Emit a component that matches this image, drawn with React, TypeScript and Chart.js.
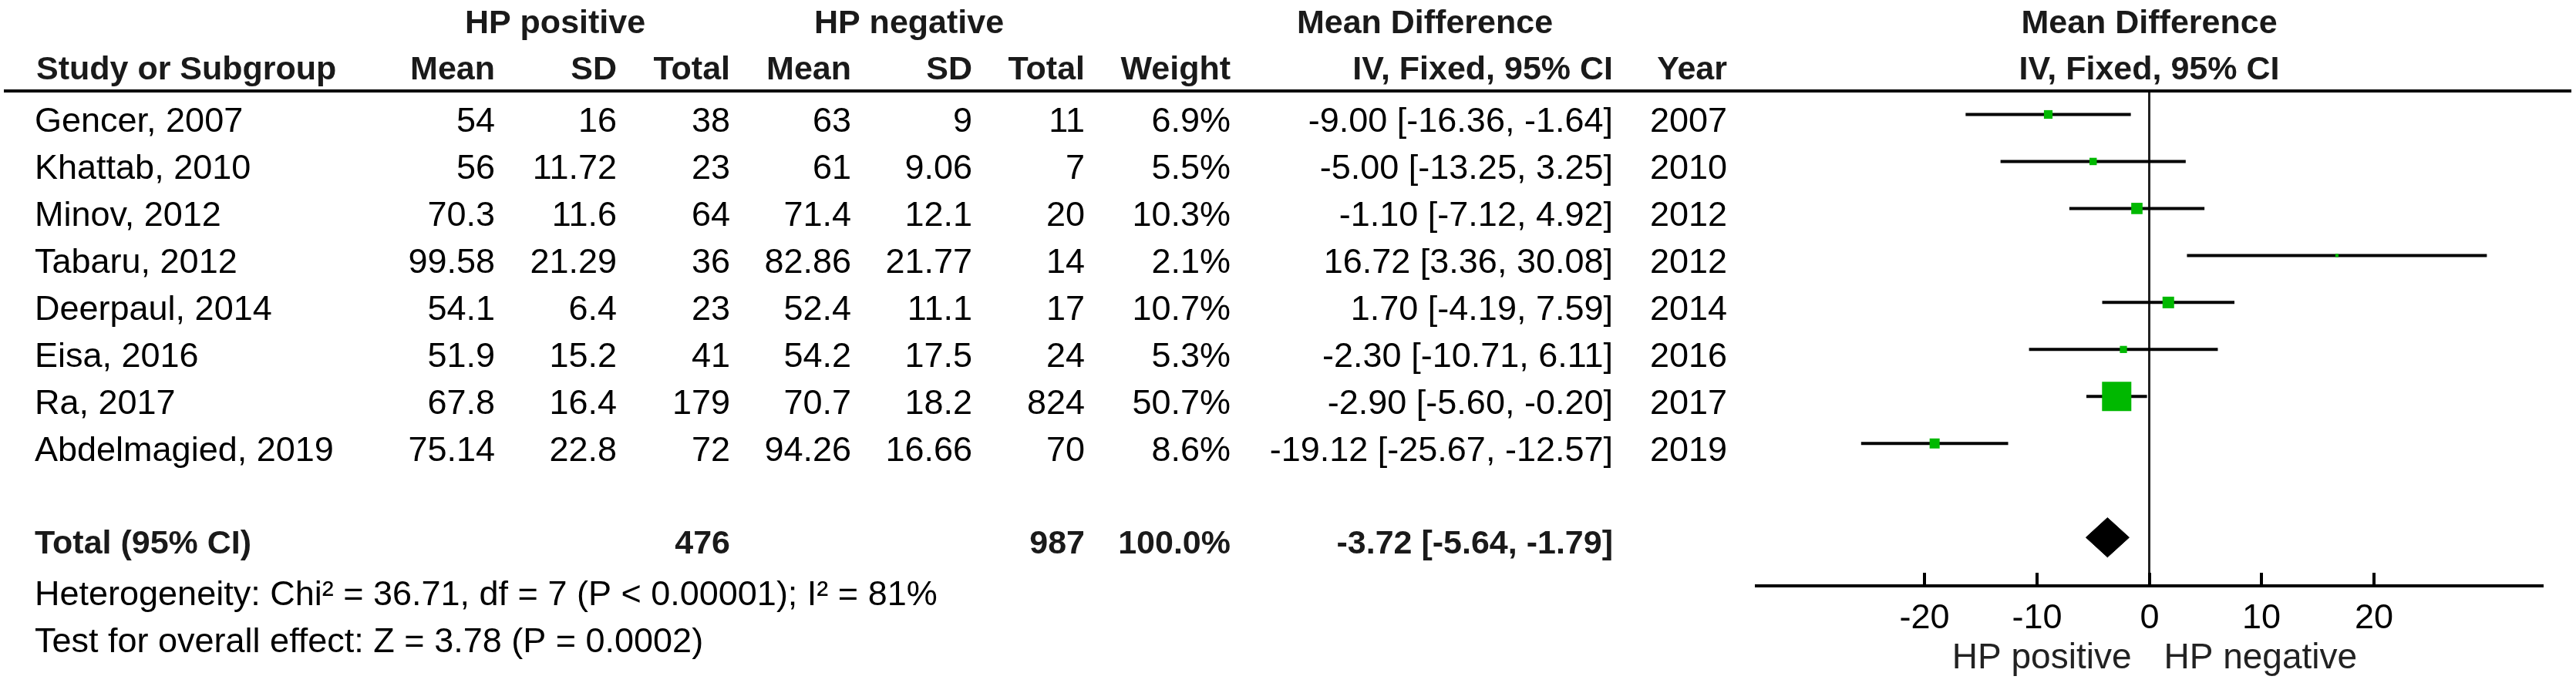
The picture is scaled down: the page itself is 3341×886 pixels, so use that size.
import React, { useEffect, useRef } from 'react';
import { Chart, registerables } from 'chart.js';

Chart.register(...registerables);

// ---------- data ----------
const STUDIES = ['Gencer, 2007', 'Khattab, 2010', 'Minov, 2012', 'Tabaru, 2012', 'Deerpaul, 2014', 'Eisa, 2016', 'Ra, 2017', 'Abdelmagied, 2019'];
const POS_MEAN = [54, 56, 70.3, 99.58, 54.1, 51.9, 67.8, 75.14];
const POS_SD = [16, 11.72, 11.6, 21.29, 6.4, 15.2, 16.4, 22.8];
const POS_N = [38, 23, 64, 36, 23, 41, 179, 72];
const NEG_MEAN = [63, 61, 71.4, 82.86, 52.4, 54.2, 70.7, 94.26];
const NEG_SD = [9, 9.06, 12.1, 21.77, 11.1, 17.5, 18.2, 16.66];
const NEG_N = [11, 7, 20, 14, 17, 24, 824, 70];
const WEIGHT = [6.9, 5.5, 10.3, 2.1, 10.7, 5.3, 50.7, 8.6];
const MD = [-9.0, -5.0, -1.1, 16.72, 1.7, -2.3, -2.9, -19.12];
const CI_LO = [-16.36, -13.25, -7.12, 3.36, -4.19, -10.71, -5.6, -25.67];
const CI_HI = [-1.64, 3.25, 4.92, 30.08, 7.59, 6.11, -0.2, -12.57];
const YEARS = [2007, 2010, 2012, 2012, 2014, 2016, 2017, 2019];

const TOTAL_POS_N = 476;
const TOTAL_NEG_N = 987;
const TOTAL_WEIGHT = 100.0;
const TOTAL_MD = -3.72;
const TOTAL_LO = -5.64;
const TOTAL_HI = -1.79;
const HETEROGENEITY = 'Heterogeneity: Chi\u00B2 = 36.71, df = 7 (P < 0.00001); I\u00B2 = 81%';
const OVERALL = 'Test for overall effect: Z = 3.78 (P = 0.0002)';

const X_TICKS = [-20, -10, 0, 10, 20];
const X_MIN = -35;
const X_MAX = 35;
const TOTAL_ROW = 9;

// ---------- layout / style ----------
const W = 3341;
const H = 886;
const FONT = '"Liberation Sans", Arial, Helvetica, sans-serif';
const REG = `45px ${FONT}`;
const BOLD = `bold 43px ${FONT}`;
const GREEN = '#00b800';
const DIAMOND_HALF = 0.42;

const fmt2 = (v: number) => v.toFixed(2);
const ciText = (m: number, l: number, h: number) => `${fmt2(m)} [${fmt2(l)}, ${fmt2(h)}]`;
const squareSide = (w: number) => Math.max(3, 5.97 * Math.sqrt(w) - 4.5);

const tablePlugin = {
  id: 'forestTable',
  beforeDraw(chart: any) {
    const ctx = chart.ctx;
    ctx.save();
    ctx.fillStyle = '#fff';
    ctx.fillRect(0, 0, chart.width, chart.height);
    ctx.restore();
  },
  afterDraw(chart: any) {
    const ctx: CanvasRenderingContext2D = chart.ctx;
    const ys = chart.scales.y;
    const xs = chart.scales.x;
    const area = chart.chartArea;
    const cx = (area.left + area.right) / 2;

    const text = (s: string, x: number, y: number, align: CanvasTextAlign, font: string, color = '#000') => {
      ctx.font = font;
      ctx.fillStyle = color;
      ctx.textAlign = align;
      ctx.textBaseline = 'alphabetic';
      ctx.fillText(s, x, y);
    };

    ctx.save();
    const HC = '#1a1a1a';
    // header row 1
    text('HP positive', 720, 43, 'center', BOLD, HC);
    text('HP negative', 1179, 43, 'center', BOLD, HC);
    text('Mean Difference', 1848, 43, 'center', BOLD, HC);
    text('Mean Difference', cx, 43, 'center', BOLD, HC);
    // header row 2
    text('Study or Subgroup', 47, 103, 'left', BOLD, HC);
    text('Mean', 642, 103, 'right', BOLD, HC);
    text('SD', 800, 103, 'right', BOLD, HC);
    text('Total', 947, 103, 'right', BOLD, HC);
    text('Mean', 1104, 103, 'right', BOLD, HC);
    text('SD', 1261, 103, 'right', BOLD, HC);
    text('Total', 1407, 103, 'right', BOLD, HC);
    text('Weight', 1596, 103, 'right', BOLD, HC);
    text('IV, Fixed, 95% CI', 2092, 103, 'right', BOLD, HC);
    text('Year', 2240, 103, 'right', BOLD, HC);
    text('IV, Fixed, 95% CI', cx, 103, 'center', BOLD, HC);

    // header rule
    ctx.strokeStyle = '#000';
    ctx.lineWidth = 4;
    ctx.beginPath();
    ctx.moveTo(5, area.top);
    ctx.lineTo(3335, area.top);
    ctx.stroke();

    // study rows
    STUDIES.forEach((name, i) => {
      const y = ys.getPixelForValue(i) + 23;
      text(name, 45, y, 'left', REG);
      text(String(POS_MEAN[i]), 642, y, 'right', REG);
      text(String(POS_SD[i]), 800, y, 'right', REG);
      text(String(POS_N[i]), 947, y, 'right', REG);
      text(String(NEG_MEAN[i]), 1104, y, 'right', REG);
      text(String(NEG_SD[i]), 1261, y, 'right', REG);
      text(String(NEG_N[i]), 1407, y, 'right', REG);
      text(`${WEIGHT[i].toFixed(1)}%`, 1596, y, 'right', REG);
      text(ciText(MD[i], CI_LO[i], CI_HI[i]), 2092, y, 'right', REG);
      text(String(YEARS[i]), 2240, y, 'right', REG);
    });

    // total row
    const ty = ys.getPixelForValue(TOTAL_ROW) + 21;
    text('Total (95% CI)', 45, ty, 'left', BOLD, HC);
    text(String(TOTAL_POS_N), 947, ty, 'right', BOLD, HC);
    text(String(TOTAL_NEG_N), 1407, ty, 'right', BOLD, HC);
    text(`${TOTAL_WEIGHT.toFixed(1)}%`, 1596, ty, 'right', BOLD, HC);
    text(ciText(TOTAL_MD, TOTAL_LO, TOTAL_HI), 2092, ty, 'right', BOLD, HC);

    // footer
    text(HETEROGENEITY, 45, 785, 'left', REG);
    text(OVERALL, 45, 846, 'left', REG);

    // axis tick marks (upwards) and labels
    ctx.strokeStyle = '#000';
    ctx.lineWidth = 4;
    xs.ticks.forEach((t: any) => {
      const x = Math.round(xs.getPixelForValue(t.value));
      ctx.beginPath();
      ctx.moveTo(x, area.bottom - 17);
      ctx.lineTo(x, area.bottom);
      ctx.stroke();
      text(String(t.value), x, 815, 'center', REG);
    });
    const x0 = xs.getPixelForValue(0);
    text('HP positive', x0 - 23, 867, 'right', `46px ${FONT}`, '#222');
    text('HP negative', x0 + 19, 867, 'left', `46px ${FONT}`, '#222');
    ctx.restore();
  },
};

export default function App() {
  const ref = useRef<HTMLCanvasElement | null>(null);

  useEffect(() => {
    if (!ref.current) return;
    const whiskers = STUDIES.map((s, i) => ({
      label: `${s} CI`,
      data: [
        { x: CI_LO[i], y: i },
        { x: CI_HI[i], y: i },
      ],
      showLine: true,
      borderColor: '#000',
      borderWidth: 4,
      pointRadius: 0,
      order: 2,
    }));
    const squares = {
      label: 'Mean difference',
      data: STUDIES.map((_, i) => ({ x: MD[i], y: i })),
      pointStyle: 'rect',
      pointRadius: (c: any) => squareSide(WEIGHT[c.dataIndex] ?? 1) / Math.SQRT2,
      pointBackgroundColor: GREEN,
      pointBorderWidth: 0,
      borderWidth: 0,
      showLine: false,
      order: 0,
    };
    const diamond = {
      label: 'Total',
      data: [
        { x: TOTAL_LO, y: TOTAL_ROW },
        { x: TOTAL_MD, y: TOTAL_ROW - DIAMOND_HALF },
        { x: TOTAL_HI, y: TOTAL_ROW },
        { x: TOTAL_MD, y: TOTAL_ROW + DIAMOND_HALF },
        { x: TOTAL_LO, y: TOTAL_ROW },
      ],
      showLine: true,
      fill: 'shape',
      backgroundColor: '#000',
      borderColor: '#000',
      borderWidth: 1,
      pointRadius: 0,
      tension: 0,
      order: 0,
    };

    const chart = new Chart(ref.current, {
      type: 'scatter',
      data: { datasets: [squares, diamond, ...whiskers] as any },
      options: {
        animation: false,
        responsive: false,
        maintainAspectRatio: false,
        devicePixelRatio: 1,
        layout: { padding: { left: 2278, right: W - 3297, top: 118, bottom: 0 } },
        plugins: { legend: { display: false }, tooltip: { enabled: false } },
        scales: {
          x: {
            type: 'linear',
            min: X_MIN,
            max: X_MAX,
            afterBuildTicks: (axis: any) => {
              axis.ticks = X_TICKS.map((v) => ({ value: v }));
            },
            afterFit: (axis: any) => {
              axis.height = H - 760;
            },
            ticks: { display: false },
            grid: {
              drawTicks: false,
              color: (c: any) => (c.tick && c.tick.value === 0 ? '#222' : 'rgba(0,0,0,0)'),
              lineWidth: 3,
            },
            border: { display: true, color: '#000', width: 4 },
          },
          y: {
            type: 'linear',
            display: false,
            reverse: true,
            min: -0.5,
            max: 10.03,
          },
        },
      } as any,
      plugins: [tablePlugin],
    });
    return () => chart.destroy();
  }, []);

  return (
    <div style={{ position: 'absolute', left: 0, top: 0, width: W, height: H, background: '#fff' }}>
      <canvas ref={ref} width={W} height={H} style={{ display: 'block', width: W, height: H }} />
    </div>
  );
}
